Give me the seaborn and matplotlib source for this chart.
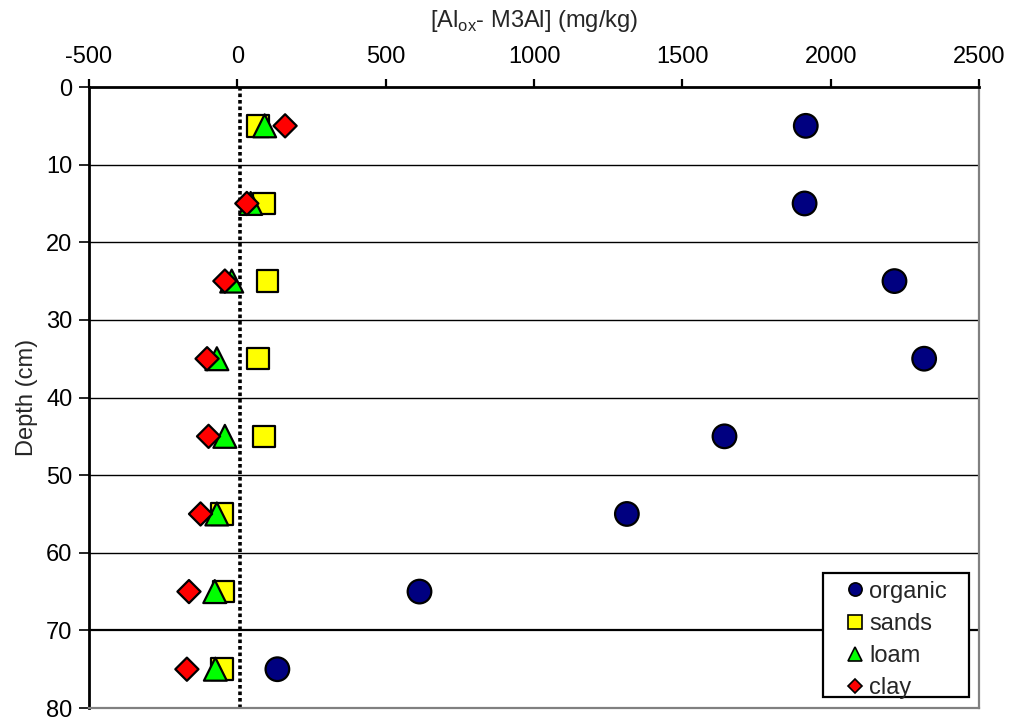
import numpy as np
import pandas as pd
import matplotlib
matplotlib.use("Agg")
import matplotlib.pyplot as plt
import seaborn as sns
from matplotlib.lines import Line2D
from matplotlib.patches import Rectangle

# Sampling depths (cm) and [Al_ox - M3Al] differences (mg/kg) per soil group
depth = [5, 15, 25, 35, 45, 55, 65, 75]
organic = [1916, 1912, 2215, 2315, 1642, 1313, 614, 135]
sands = [69, 89, 102, 69, 89, -52, -46, -52]
loam = [92, 45, -19, -69, -42, -69, -76, -74]
clay = [161, 32, -42, -102, -97, -124, -163, -170]

series = ["organic", "sands", "loam", "clay"]
xticks = [-500, 0, 500, 1000, 1500, 2000, 2500]
yticks = [0, 10, 20, 30, 40, 50, 60, 70, 80]
ref_x = 10  # dotted reference line

colors = {"organic": "#000080", "sands": "#FFFF00", "loam": "#00FF00", "clay": "#FF0000"}
markers = {"organic": "o", "sands": "s", "loam": "^", "clay": "D"}
areas = {"organic": 17.0 ** 2, "sands": 15.5 ** 2, "loam": 16.5 ** 2, "clay": 11.8 ** 2}

df = pd.concat(
    [pd.DataFrame({"depth": depth, "value": vals, "group": name})
     for name, vals in zip(series, [organic, sands, loam, clay])],
    ignore_index=True,
)

sns.set_theme(style="white")
plt.rcParams["font.family"] = ["Liberation Sans", "DejaVu Sans"]

fig = plt.figure(figsize=(10.09, 7.21), dpi=100)
ax = fig.add_axes([0.0882, 0.018, 0.8821, 0.8613])

# horizontal grid
for y in yticks[1:-1]:
    ax.axhline(y, color="black", lw=1.6 if y == 70 else 1.0, zorder=1)

ax.plot([ref_x, ref_x], [0, 80], color="black", lw=2.6,
        linestyle=(0, (1, 0.8)), zorder=2)

sns.scatterplot(
    data=df, x="value", y="depth", hue="group", style="group", size="group",
    palette=colors, markers=markers, sizes=areas, hue_order=series,
    style_order=series, size_order=series,
    edgecolor="black", linewidth=1.6, legend=False, ax=ax, zorder=3,
)

ax.set_xlim(-500, 2500)
ax.set_ylim(80, 0)
ax.set_xticks(xticks)
ax.set_yticks(yticks)
ax.set_xticklabels([str(v) for v in xticks])
ax.xaxis.tick_top()
ax.xaxis.set_label_position("top")
ax.tick_params(axis="x", which="major", direction="out", length=6, width=1.6,
               labelsize=17, pad=7.5, colors="black", top=True, bottom=False)
ax.tick_params(axis="y", which="major", direction="out", length=7, width=1.2,
               labelsize=17, pad=5, colors="black", left=True)

for side in ["top", "left"]:
    ax.spines[side].set_color("black")
    ax.spines[side].set_linewidth(2.0)
for side in ["right", "bottom"]:
    ax.spines[side].set_color("#808080")
    ax.spines[side].set_linewidth(1.6)

ax.set_xlabel("[Al$_{\\mathregular{ox}}$- M3Al] (mg/kg)", fontsize=17, labelpad=14)
ax.set_ylabel("Depth (cm)", fontsize=17, labelpad=6)

# legend frame
ax.add_patch(Rectangle((0.8247, 0.0177), 0.9888 - 0.8247, 0.2174 - 0.0177,
                       transform=ax.transAxes, facecolor="white", edgecolor="black",
                       linewidth=1.6, zorder=4))

handles = [
    Line2D([], [], linestyle="none", marker=markers[s], markersize=9.5 if s != "clay" else 7.5,
           markerfacecolor=colors[s], markeredgecolor="black", markeredgewidth=1.2, label=s)
    for s in series
]
leg = ax.legend(handles=handles, loc="upper left", bbox_to_anchor=(0.8472, 0.205),
                borderaxespad=0, borderpad=0, frameon=False, fontsize=17,
                handlelength=1.0, handletextpad=0.1, labelspacing=0.43)
leg.set_zorder(5)

fig.savefig("out.png", dpi=100)
